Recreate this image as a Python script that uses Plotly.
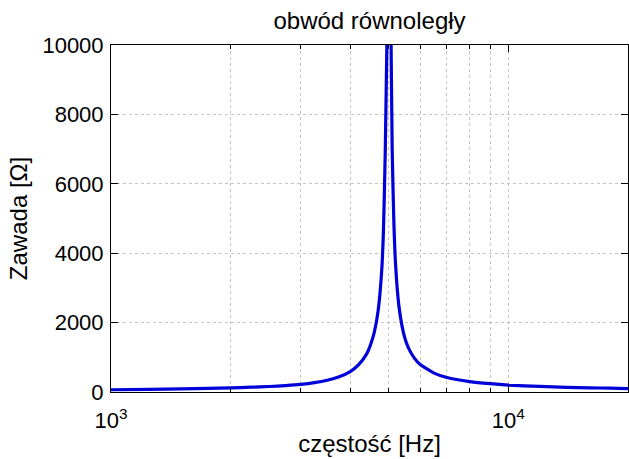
import plotly.graph_objects as go

# frequency [Hz] and impedance [Ohm]
freq_hz = [1000, 1250, 1500, 1750, 2000, 2250, 2500, 2750, 3000, 3250, 3500, 3750,
           4000, 4200, 4400, 4500, 4600, 4700, 4800, 4850, 4900, 4950, 5010,
           5060, 5100, 5150, 5200, 5300, 5400, 5500, 5600, 5800, 6000, 6500,
           7000, 8000, 9000, 10000, 12000, 14000, 16000, 18000, 20000]
impedance_ohm = [65, 76, 90, 105, 120, 138, 158, 185, 220, 270, 340, 440,
                 590, 790, 1100, 1360, 1730, 2330, 3500, 4700, 6950, 10300, 14000,
                 10800, 7000, 4900, 3700, 2500, 1900, 1520, 1280, 975, 790, 545,
                 420, 300, 240, 200, 160, 135, 120, 110, 100]

title_text = "obwód równoległy"
x_title = "częstość [Hz]"
y_title = "Zawada [Ω]"
x_major_vals = [1000, 10000]
x_major_text = ["10<sup>3</sup>", "10<sup>4</sup>"]
x_minor_vals = [2000, 3000, 4000, 5000, 6000, 7000, 8000, 9000, 20000]
y_tick_vals = [0, 2000, 4000, 6000, 8000, 10000]
y_tick_text = ["0", "2000", "4000", "6000", "8000", "10000"]

FONT = "Liberation Sans, Arial, sans-serif"

fig = go.Figure()
fig.add_trace(go.Scatter(
    x=freq_hz, y=impedance_ohm, mode="lines",
    line=dict(color="#0000d8", width=3.2, shape="spline", smoothing=0.5),
    showlegend=False, hoverinfo="skip",
))

fig.update_layout(
    width=629, height=459,
    margin=dict(l=111, r=1, t=45, b=67, autoexpand=False),
    paper_bgcolor="white", plot_bgcolor="white",
    font=dict(family=FONT, size=22, color="black"),
    title=dict(text=title_text, x=0.5, xref="paper", xanchor="center",
               y=1 - 21 / 459, yref="container", yanchor="middle",
               font=dict(size=24)),
)

fig.update_xaxes(
    type="log", range=[3, 4.30103], automargin=False,
    tickmode="array", tickvals=x_major_vals, ticktext=x_major_text,
    ticks="inside", ticklen=7, tickcolor="black", ticklabelstandoff=9,
    showline=True, linecolor="black", linewidth=1, mirror="ticks",
    showgrid=True, gridcolor="#c4c4c4", griddash="dot", gridwidth=1,
    minor=dict(tickvals=x_minor_vals, ticks="inside", ticklen=4,
               tickcolor="black", showgrid=True, gridcolor="#c4c4c4",
               griddash="dot", gridwidth=1),
    zeroline=False,
    title=dict(text=x_title, standoff=2, font=dict(size=24)),
    tickfont=dict(size=22),
)

fig.update_yaxes(
    range=[0, 10000], automargin=False,
    tickmode="array", tickvals=y_tick_vals, ticktext=y_tick_text,
    ticks="inside", ticklen=7, tickcolor="black", ticklabelstandoff=2,
    showline=True, linecolor="black", linewidth=1, mirror="ticks",
    showgrid=True, gridcolor="#c4c4c4", griddash="dot", gridwidth=1,
    zeroline=False,
    title=dict(text=y_title, standoff=8, font=dict(size=24)),
    tickfont=dict(size=22),
)

fig.write_html("out.html", config={"displayModeBar": False},
               post_script="document.body.style.margin='0px';")
